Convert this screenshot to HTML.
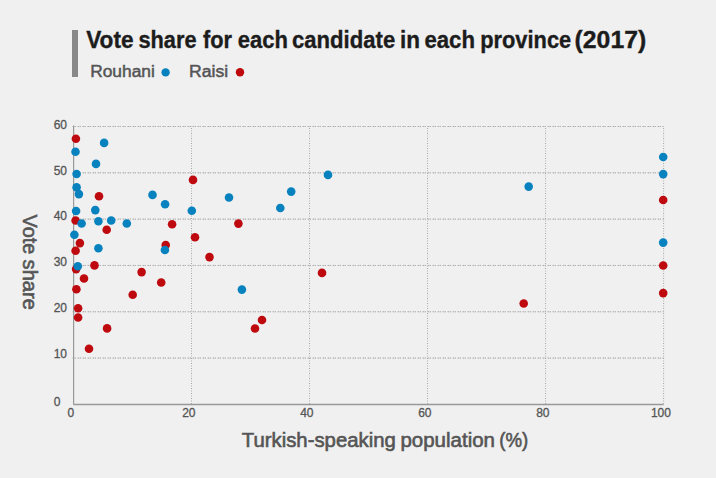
<!DOCTYPE html>
<html><head><meta charset="utf-8">
<style>
html,body{margin:0;padding:0;background:#f0f0f0;width:716px;height:478px;overflow:hidden;}
svg{display:block;font-family:"Liberation Sans",sans-serif;}
</style></head><body>
<svg width="716" height="478" viewBox="0 0 716 478">
<rect width="716" height="478" fill="#f0f0f0"/>
<rect x="72" y="30" width="6" height="47" fill="#888888"/>
<g font-size="23.1" font-weight="bold" fill="#1c1c1c" stroke="#1c1c1c" stroke-width="0.35"><text x="86.20" y="48.3" textLength="47.40" lengthAdjust="spacingAndGlyphs">Vote</text><text x="138.40" y="48.3" textLength="58.20" lengthAdjust="spacingAndGlyphs">share</text><text x="203.00" y="48.3" textLength="29.00" lengthAdjust="spacingAndGlyphs">for</text><text x="237.80" y="48.3" textLength="50.20" lengthAdjust="spacingAndGlyphs">each</text><text x="292.00" y="48.3" textLength="103.20" lengthAdjust="spacingAndGlyphs">candidate</text><text x="400.00" y="48.3" textLength="20.00" lengthAdjust="spacingAndGlyphs">in</text><text x="424.40" y="48.3" textLength="50.60" lengthAdjust="spacingAndGlyphs">each</text><text x="480.20" y="48.3" textLength="91.00" lengthAdjust="spacingAndGlyphs">province</text><text x="574.60" y="48.3" textLength="71.60" lengthAdjust="spacingAndGlyphs">(2017)</text></g>
<g font-size="17.3" fill="#555555" stroke="#555555" stroke-width="0.5">
<text x="90.20" y="76.8" textLength="64.60" lengthAdjust="spacingAndGlyphs">Rouhani</text>
<text x="189.00" y="76.8" textLength="39.20" lengthAdjust="spacingAndGlyphs">Raisi</text>
</g>
<circle cx="165.6" cy="72.4" r="4.2" fill="#0882be"/>
<circle cx="240" cy="72.3" r="4.2" fill="#be0a0f"/>
<g stroke-width="1" fill="none">
<line x1="72" y1="358.08" x2="663.6" y2="358.08" stroke="#d0d0d0" stroke-dasharray="4 1"/><line x1="72" y1="358.08" x2="663.6" y2="358.08" stroke="#b0b0b0" stroke-dasharray="0 1 1 1 1 1"/><line x1="72" y1="311.77" x2="663.6" y2="311.77" stroke="#d0d0d0" stroke-dasharray="4 1"/><line x1="72" y1="311.77" x2="663.6" y2="311.77" stroke="#b0b0b0" stroke-dasharray="0 1 1 1 1 1"/><line x1="72" y1="265.45" x2="663.6" y2="265.45" stroke="#d0d0d0" stroke-dasharray="4 1"/><line x1="72" y1="265.45" x2="663.6" y2="265.45" stroke="#b0b0b0" stroke-dasharray="0 1 1 1 1 1"/><line x1="72" y1="219.13" x2="663.6" y2="219.13" stroke="#d0d0d0" stroke-dasharray="4 1"/><line x1="72" y1="219.13" x2="663.6" y2="219.13" stroke="#b0b0b0" stroke-dasharray="0 1 1 1 1 1"/><line x1="72" y1="172.82" x2="663.6" y2="172.82" stroke="#d0d0d0" stroke-dasharray="4 1"/><line x1="72" y1="172.82" x2="663.6" y2="172.82" stroke="#b0b0b0" stroke-dasharray="0 1 1 1 1 1"/><line x1="72" y1="126.50" x2="663.6" y2="126.50" stroke="#d0d0d0" stroke-dasharray="4 1"/><line x1="72" y1="126.50" x2="663.6" y2="126.50" stroke="#b0b0b0" stroke-dasharray="0 1 1 1 1 1"/><line x1="73.50" y1="126" x2="73.50" y2="404.4" stroke="#a4a4a4" stroke-dasharray="1 4" stroke-dashoffset="-2"/><line x1="73.50" y1="126" x2="73.50" y2="404.4" stroke="#b0b0b0" stroke-dasharray="1 4" stroke-dashoffset="-4.5"/><line x1="191.52" y1="126" x2="191.52" y2="404.4" stroke="#a4a4a4" stroke-dasharray="1 4" stroke-dashoffset="-2"/><line x1="191.52" y1="126" x2="191.52" y2="404.4" stroke="#b0b0b0" stroke-dasharray="1 4" stroke-dashoffset="-4.5"/><line x1="309.54" y1="126" x2="309.54" y2="404.4" stroke="#a4a4a4" stroke-dasharray="1 4" stroke-dashoffset="-2"/><line x1="309.54" y1="126" x2="309.54" y2="404.4" stroke="#b0b0b0" stroke-dasharray="1 4" stroke-dashoffset="-4.5"/><line x1="427.56" y1="126" x2="427.56" y2="404.4" stroke="#a4a4a4" stroke-dasharray="1 4" stroke-dashoffset="-2"/><line x1="427.56" y1="126" x2="427.56" y2="404.4" stroke="#b0b0b0" stroke-dasharray="1 4" stroke-dashoffset="-4.5"/><line x1="545.58" y1="126" x2="545.58" y2="404.4" stroke="#a4a4a4" stroke-dasharray="1 4" stroke-dashoffset="-2"/><line x1="545.58" y1="126" x2="545.58" y2="404.4" stroke="#b0b0b0" stroke-dasharray="1 4" stroke-dashoffset="-4.5"/><line x1="663.60" y1="126" x2="663.60" y2="404.4" stroke="#a4a4a4" stroke-dasharray="1 4" stroke-dashoffset="-2"/><line x1="663.60" y1="126" x2="663.60" y2="404.4" stroke="#b0b0b0" stroke-dasharray="1 4" stroke-dashoffset="-4.5"/>
</g>
<line x1="73.6" y1="125.5" x2="73.6" y2="404.4" stroke="#999" stroke-width="1.2"/>
<line x1="73.5" y1="404.4" x2="663.6" y2="404.4" stroke="#999" stroke-width="1.5"/>
<g font-size="12" fill="#555555" stroke="#555555" stroke-width="0.3">
<text x="53.7" y="405.50">0</text><text x="53.7" y="358.10">10</text><text x="53.7" y="312.20">20</text><text x="53.7" y="266.20">30</text><text x="53.7" y="220.40">40</text><text x="53.7" y="174.50">50</text><text x="53.7" y="128.60">60</text>
<text x="70.80" y="417" text-anchor="middle">0</text><text x="188.82" y="417" text-anchor="middle">20</text><text x="306.84" y="417" text-anchor="middle">40</text><text x="424.86" y="417" text-anchor="middle">60</text><text x="542.88" y="417" text-anchor="middle">80</text><text x="660.90" y="417" text-anchor="middle">100</text>
</g>
<circle cx="75.90" cy="138.80" r="4.3" fill="#be0a0f"/><circle cx="99.00" cy="196.20" r="4.3" fill="#be0a0f"/><circle cx="75.60" cy="220.50" r="4.3" fill="#be0a0f"/><circle cx="106.70" cy="229.70" r="4.3" fill="#be0a0f"/><circle cx="79.90" cy="243.10" r="4.3" fill="#be0a0f"/><circle cx="75.60" cy="250.70" r="4.3" fill="#be0a0f"/><circle cx="76.10" cy="269.10" r="4.3" fill="#be0a0f"/><circle cx="94.50" cy="265.40" r="4.3" fill="#be0a0f"/><circle cx="84.00" cy="278.50" r="4.3" fill="#be0a0f"/><circle cx="76.40" cy="289.20" r="4.3" fill="#be0a0f"/><circle cx="132.70" cy="294.70" r="4.3" fill="#be0a0f"/><circle cx="141.60" cy="272.10" r="4.3" fill="#be0a0f"/><circle cx="78.10" cy="308.20" r="4.3" fill="#be0a0f"/><circle cx="78.10" cy="317.50" r="4.3" fill="#be0a0f"/><circle cx="107.10" cy="328.40" r="4.3" fill="#be0a0f"/><circle cx="89.00" cy="348.80" r="4.3" fill="#be0a0f"/><circle cx="193.00" cy="179.90" r="4.3" fill="#be0a0f"/><circle cx="172.10" cy="224.20" r="4.3" fill="#be0a0f"/><circle cx="195.00" cy="237.30" r="4.3" fill="#be0a0f"/><circle cx="165.70" cy="245.00" r="4.3" fill="#be0a0f"/><circle cx="161.20" cy="282.50" r="4.3" fill="#be0a0f"/><circle cx="238.40" cy="223.60" r="4.3" fill="#be0a0f"/><circle cx="262.00" cy="320.00" r="4.3" fill="#be0a0f"/><circle cx="255.00" cy="328.50" r="4.3" fill="#be0a0f"/><circle cx="322.00" cy="272.90" r="4.3" fill="#be0a0f"/><circle cx="523.70" cy="303.50" r="4.3" fill="#be0a0f"/><circle cx="663.20" cy="200.00" r="4.3" fill="#be0a0f"/><circle cx="663.20" cy="265.50" r="4.3" fill="#be0a0f"/><circle cx="663.20" cy="293.10" r="4.3" fill="#be0a0f"/><circle cx="209.50" cy="257.10" r="4.3" fill="#be0a0f"/><circle cx="75.50" cy="151.70" r="4.3" fill="#0882be"/><circle cx="104.10" cy="142.90" r="4.3" fill="#0882be"/><circle cx="96.00" cy="163.90" r="4.3" fill="#0882be"/><circle cx="76.60" cy="174.00" r="4.3" fill="#0882be"/><circle cx="76.60" cy="187.40" r="4.3" fill="#0882be"/><circle cx="78.90" cy="194.10" r="4.3" fill="#0882be"/><circle cx="76.10" cy="211.00" r="4.3" fill="#0882be"/><circle cx="95.30" cy="210.10" r="4.3" fill="#0882be"/><circle cx="98.40" cy="221.30" r="4.3" fill="#0882be"/><circle cx="111.20" cy="220.50" r="4.3" fill="#0882be"/><circle cx="126.80" cy="223.50" r="4.3" fill="#0882be"/><circle cx="74.40" cy="234.70" r="4.3" fill="#0882be"/><circle cx="98.40" cy="248.30" r="4.3" fill="#0882be"/><circle cx="152.50" cy="194.90" r="4.3" fill="#0882be"/><circle cx="165.10" cy="204.30" r="4.3" fill="#0882be"/><circle cx="191.80" cy="210.80" r="4.3" fill="#0882be"/><circle cx="229.00" cy="197.50" r="4.3" fill="#0882be"/><circle cx="280.30" cy="208.00" r="4.3" fill="#0882be"/><circle cx="291.20" cy="191.60" r="4.3" fill="#0882be"/><circle cx="328.00" cy="174.90" r="4.3" fill="#0882be"/><circle cx="241.90" cy="289.60" r="4.3" fill="#0882be"/><circle cx="528.70" cy="186.60" r="4.3" fill="#0882be"/><circle cx="663.20" cy="157.00" r="4.3" fill="#0882be"/><circle cx="663.20" cy="174.10" r="4.3" fill="#0882be"/><circle cx="663.20" cy="242.60" r="4.3" fill="#0882be"/><circle cx="81.60" cy="223.50" r="4.3" fill="#0882be"/><circle cx="77.80" cy="266.20" r="4.3" fill="#0882be"/><circle cx="164.90" cy="250.00" r="4.3" fill="#0882be"/>
<g font-size="20" fill="#555555" stroke="#555555" stroke-width="0.6"><text x="241.80" y="447.4" textLength="154.00" lengthAdjust="spacingAndGlyphs">Turkish-speaking</text><text x="400.40" y="447.4" textLength="94.60" lengthAdjust="spacingAndGlyphs">population</text><text x="499.20" y="447.4" textLength="29.00" lengthAdjust="spacingAndGlyphs">(%)</text></g>
<g transform="translate(22.8,0) rotate(90)"><g font-size="20" fill="#555555" stroke="#555555" stroke-width="0.6"><text x="214.60" y="0" textLength="39.60" lengthAdjust="spacingAndGlyphs">Vote</text><text x="259.60" y="0" textLength="50.20" lengthAdjust="spacingAndGlyphs">share</text></g></g>
</svg>
</body></html>
